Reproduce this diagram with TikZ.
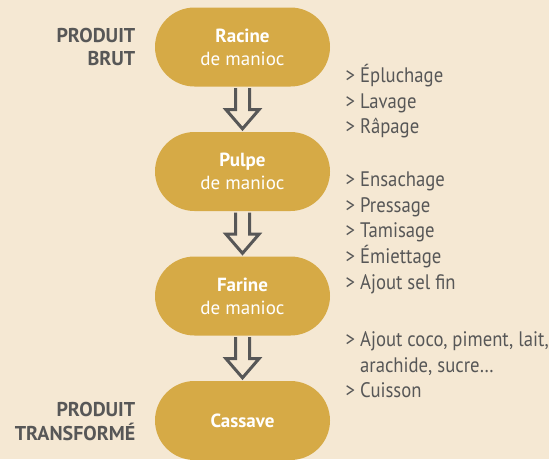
\documentclass[tikz,border=0pt]{standalone}
\usepackage{fontspec}
\setmainfont{PT Sans}
\newfontfamily\stepfont{PT Sans}[FakeStretch=0.89]
\usetikzlibrary{positioning,shapes.misc,calc}
\definecolor{mnBack}{HTML}{F5E8D3}
\definecolor{mnGold}{HTML}{D6AA46}
\definecolor{mnGrey}{HTML}{575757}

\newcommand{\flowarrow}[2]{%
  \draw[flow] ($(#1.south)+(-7,1.5)$) -- ($(#1.south)+(-7,23)$) -- ($(#1.south)+(-16.5,23)$)
    -- ($(#2.north)+(0,-3)$) -- ($(#1.south)+(16.5,23)$) -- ($(#1.south)+(7,23)$) -- ($(#1.south)+(7,1.5)$);}

\begin{document}
\begin{tikzpicture}[
    x=1pt, y=-1pt,
    pill/.style={rounded rectangle, fill=mnGold, text=white, minimum width=175pt, minimum height=79pt,
      inner sep=0pt, align=center, font=\fontsize{19}{23}\selectfont},
    lbl/.style={anchor=base east, text=mnGrey, inner sep=0pt, font=\fontsize{20}{23.5}\selectfont\bfseries},
    steps/.style={anchor=base west, text=mnGrey, inner sep=0pt, font=\fontsize{21}{25.5}\stepfont},
    flow/.style={draw=mnGrey, line width=3pt, line join=miter}
]
\fill[mnBack] (0,0) rectangle (549,459);
\useasboundingbox (0,0) rectangle (549,459);

% ===== PRODUCTS =====
\node[pill] (racine) at (242.5,47) {\textbf{Racine}\\de manioc};
\node[pill] (pulpe) at (242.5,171.5) {\textbf{Pulpe}\\de manioc};
\node[pill] (farine) at (242.5,296) {\textbf{Farine}\\de manioc};
\node[pill] (cassave) at (242.5,420.5) {\textbf{Cassave}};

% ===== ARROWS =====
\flowarrow{racine}{pulpe}
\flowarrow{pulpe}{farine}
\flowarrow{farine}{cassave}

% ===== LABELS =====
\node[lbl] (brut) at (135.5,42.3) {\begin{tabular}[t]{@{}r@{}}PRODUIT\\BRUT\end{tabular}};
\node[lbl] (transf) at (135.5,416) {\begin{tabular}[t]{@{}r@{}}PRODUIT\\TRANSFORMÉ\end{tabular}};

% ===== STEPS =====
\node[steps] (steps1) at (345.5,82.7) {\begin{tabular}[t]{@{}l@{}}> Épluchage\\> Lavage\\> Râpage\end{tabular}};
\node[steps] (steps2) at (345.5,186.7) {\begin{tabular}[t]{@{}l@{}}> Ensachage\\> Pressage\\> Tamisage\\> Émiettage\\> Ajout sel fin\end{tabular}};
\node[steps] (steps3) at (345.5,346.7) {\begin{tabular}[t]{@{}l@{}}> Ajout coco, piment, lait,\\\phantom{> }arachide, sucre…\\> Cuisson\end{tabular}};
\end{tikzpicture}
\end{document}
